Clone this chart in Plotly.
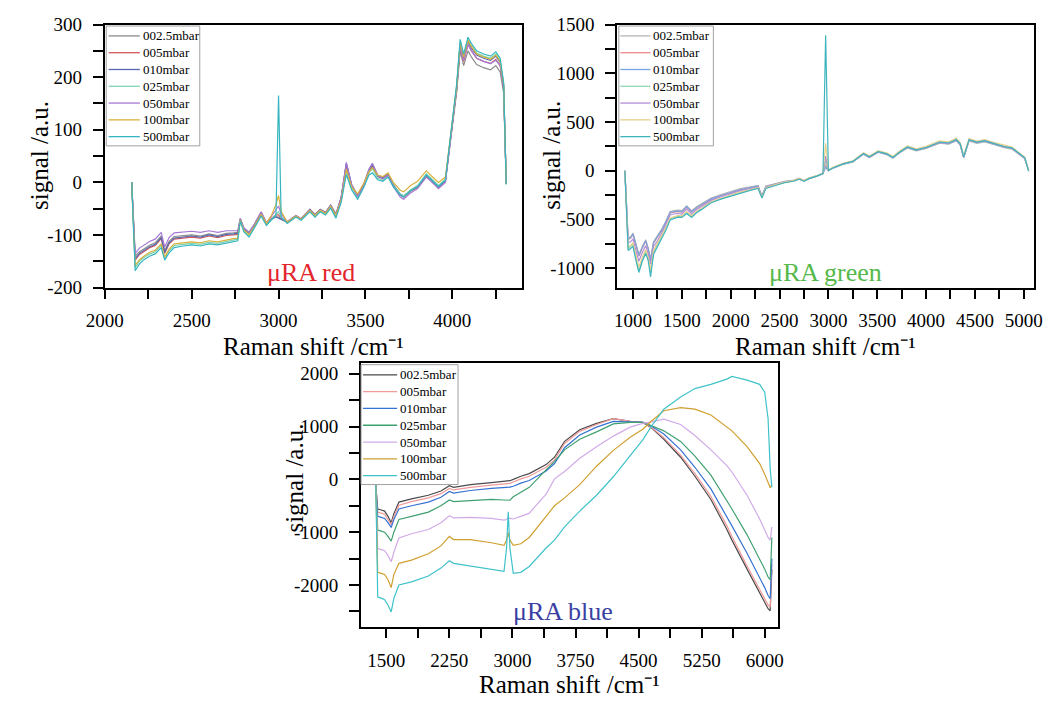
import plotly.graph_objects as go

SERIF = "Liberation Serif"

SERIES = ["002.5mbar", "005mbar", "010mbar", "025mbar", "050mbar", "100mbar", "500mbar"]

# ---------------- µRA red ----------------
RED_X = [2155, 2175, 2200, 2230, 2260, 2290, 2325, 2345, 2370, 2400, 2450, 2500, 2550, 2600,
         2650, 2700, 2740, 2765, 2780, 2800, 2830, 2860, 2900, 2930, 2960, 2985, 3000, 3015,
         3050, 3100, 3130, 3180, 3210, 3240, 3270, 3300, 3330, 3360, 3390, 3420, 3455, 3490,
         3520, 3540, 3570, 3600, 3630, 3660, 3700, 3720, 3760, 3800, 3850, 3880, 3920, 3960,
         3995, 4025, 4045, 4065, 4090, 4110, 4140, 4180, 4220, 4250, 4275, 4295, 4310]
RED_002 = [0, -140, -132, -125, -119, -115, -102, -130, -112, -103, -101, -100, -102, -98, -101, -97, -96, -95, -69, -87,
           -95, -80, -57, -77, -69, -65, -66, -69, -75, -63, -69, -51, -61, -51, -57, -43, -60, -28, 36, -4,
           -24, -3, 25, 36, 14, 9, 17, -4, -24, -28, -17, -10, 12, 3, -10, 2, 95, 172, 250, 222,
           250, 238, 224, 218, 214, 222, 210, 170, -3]
RED_005 = [0, -148, -137, -130, -124, -120, -107, -135, -117, -108, -106, -104, -106, -102, -105, -101, -100, -99, -71, -89,
           -97, -83, -59, -78, -68, -62, -62, -68, -76, -64, -70, -53, -62, -52, -58, -45, -62, -31, 33, -6,
           -27, -6, 21, 31, 11, 7, 14, -6, -24, -28, -16, -9, 13, 4, -9, 3, 98, 178, 258, 230,
           262, 250, 236, 230, 226, 234, 222, 180, -2]
RED_010 = [0, -145, -135, -128, -122, -118, -105, -133, -115, -106, -104, -102, -104, -100, -103, -99, -98, -97, -70, -88,
           -96, -82, -58, -78, -70, -66, -68, -70, -76, -64, -70, -52, -62, -52, -58, -44, -62, -30, 35, -5,
           -26, -5, 22, 33, 12, 8, 15, -5, -22, -26, -15, -8, 14, 5, -8, 4, 100, 180, 262, 235,
           268, 255, 242, 236, 232, 240, 228, 185, -2]
RED_025 = [0, -162, -150, -142, -136, -132, -120, -145, -130, -120, -118, -116, -118, -114, -116, -112, -110, -108, -72, -92,
           -101, -86, -62, -80, -70, -62, -56, -66, -77, -65, -71, -54, -64, -54, -60, -47, -65, -36, 22, -10,
           -30, -8, 18, 26, 8, 4, 12, -6, -22, -26, -14, -6, 16, 7, -6, 6, 102, 184, 268, 240,
           272, 260, 246, 240, 236, 244, 232, 188, -2]
RED_050 = [0, -135, -125, -118, -112, -108, -95, -123, -105, -96, -94, -93, -95, -92, -95, -92, -92, -92, -68, -86,
           -95, -80, -56, -77, -64, -52, -45, -60, -75, -63, -69, -52, -62, -52, -58, -44, -62, -30, 38, -4,
           -27, -6, 24, 36, 13, 7, 14, -8, -28, -32, -20, -12, 10, 1, -12, 0, 98, 178, 258, 232,
           262, 250, 236, 230, 226, 232, 222, 182, -2]
RED_100 = [0, -158, -147, -139, -133, -129, -117, -142, -127, -117, -115, -113, -115, -111, -113, -109, -107, -106, -71, -90,
           -99, -84, -60, -78, -62, -42, -25, -55, -76, -64, -70, -53, -63, -53, -59, -45, -63, -34, 25, -8,
           -22, -2, 20, 28, 14, 11, 18, 0, -15, -18, -6, 2, 22, 12, 0, 10, 100, 182, 265, 238,
           270, 258, 244, 238, 234, 242, 230, 186, -2]
RED_500 = [0, -168, -155, -146, -140, -136, -124, -148, -134, -124, -121, -119, -121, -117, -119, -115, -113, -111, -73, -94,
           -104, -88, -64, -82, -70, -62, 165, -66, -78, -66, -72, -56, -66, -56, -62, -49, -68, -38, 15, -14,
           -32, -10, 14, 18, 5, 2, 10, -8, -24, -28, -16, -8, 14, 5, -8, 4, 104, 188, 272, 244,
           276, 264, 250, 244, 240, 248, 236, 190, -4]

# ---------------- µRA green ----------------
GREEN_X = [917, 950, 975, 1000, 1030, 1060, 1095, 1130, 1155, 1180, 1210, 1250, 1300, 1340, 1380, 1420,
           1460, 1500, 1550, 1600, 1650, 1700, 1800, 1900, 2000, 2100, 2200, 2280, 2320, 2360, 2450,
           2550, 2650, 2700, 2750, 2800, 2880, 2945, 2972, 3000, 3050, 3150, 3250, 3360, 3420, 3510,
           3600, 3660, 3730, 3810, 3900, 4000, 4140, 4230, 4310, 4350, 4385, 4440, 4520, 4600, 4700,
           4800, 4880, 4950, 5010, 5050]
GREEN_002 = [0, -690, -680, -640, -750, -860, -780, -710, -790, -905, -730, -670, -590, -510, -420, -410, -405, -410, -360, -410,
             -370, -340, -280, -245, -215, -185, -165, -152, -258, -158, -134, -110, -96, -78, -101, -77, -53, -28, 30, 2,
             28, 66, 90, 170, 135, 190, 165, 130, 185, 233, 203, 228, 282, 272, 305, 262, 132, 305, 280, 295,
             266, 236, 222, 168, 124, 0]
GREEN_005 = [0, -705, -695, -655, -770, -880, -795, -725, -805, -930, -745, -685, -605, -525, -435, -425, -420, -425, -375, -425,
             -385, -355, -295, -258, -228, -198, -178, -162, -266, -166, -141, -116, -100, -82, -105, -80, -55, -30, 60, 0,
             30, 70, 95, 175, 140, 195, 170, 135, 190, 240, 210, 235, 290, 280, 315, 270, 140, 315, 290, 305,
             275, 245, 230, 175, 130, 0]
GREEN_010 = [0, -700, -690, -650, -760, -870, -790, -720, -800, -920, -740, -680, -600, -520, -430, -420, -415, -420, -370, -420,
             -380, -350, -290, -255, -225, -195, -175, -160, -265, -165, -140, -115, -100, -82, -105, -80, -55, -30, 40, 0,
             30, 70, 95, 175, 140, 195, 170, 135, 190, 240, 210, 235, 290, 280, 315, 270, 140, 315, 290, 305,
             275, 245, 230, 175, 130, 0]
GREEN_025 = [0, -800, -780, -760, -900, -1030, -920, -830, -900, -1040, -840, -760, -670, -590, -495, -480, -470, -470, -430, -470,
             -425, -395, -325, -288, -255, -222, -198, -178, -275, -178, -150, -123, -106, -88, -110, -84, -58, -32, 100, 2,
             26, 65, 90, 170, 135, 190, 165, 130, 185, 235, 205, 230, 285, 275, 310, 265, 135, 310, 285, 300,
             270, 240, 225, 170, 125, 0]
GREEN_050 = [0, -740, -730, -700, -820, -930, -840, -770, -850, -960, -780, -720, -630, -550, -455, -445, -440, -445, -395, -445,
             -400, -370, -305, -268, -236, -205, -183, -166, -268, -170, -144, -118, -102, -84, -106, -81, -56, -30, 150, 5,
             28, 68, 92, 172, 138, 193, 168, 132, 188, 238, 208, 233, 288, 278, 312, 268, 138, 312, 288, 303,
             273, 243, 228, 173, 128, 0]
GREEN_100 = [0, -780, -770, -740, -870, -990, -890, -810, -890, -1020, -820, -745, -660, -580, -485, -470, -462, -465, -420, -462,
             -418, -388, -320, -283, -250, -218, -195, -176, -272, -176, -146, -118, -100, -80, -102, -76, -50, -25, 280, 8,
             36, 76, 102, 184, 150, 206, 182, 146, 202, 254, 224, 250, 306, 296, 332, 286, 154, 330, 304, 318,
             288, 258, 242, 186, 140, 0]
GREEN_500 = [0, -820, -800, -780, -920, -1045, -930, -850, -920, -1090, -860, -780, -690, -605, -505, -490, -478, -480, -440, -480,
             -432, -400, -330, -292, -260, -226, -202, -182, -280, -182, -152, -124, -106, -86, -108, -82, -56, -30, 1390, 4,
             30, 70, 95, 176, 142, 196, 172, 136, 192, 244, 214, 238, 294, 284, 320, 276, 144, 318, 294, 308,
             278, 248, 234, 178, 134, -5]

# ---------------- µRA blue ----------------
BLUE_X = [1375, 1398, 1440, 1480, 1520, 1558, 1590, 1650, 1800, 2000, 2150, 2250, 2300, 2500, 2750,
          2900, 2930, 2950, 2970, 3010, 3100, 3200, 3400, 3500, 3620, 3800, 4000, 4200, 4400, 4550,
          4650, 4800, 5000, 5170, 5360, 5550, 5610, 5790, 5940, 6000, 6040, 6065, 6085]
BLUE_002 = [-100, -560, -580, -600, -700, -820, -650, -430, -370, -300, -220, -120, -150, -100, -60,
            -40, -35, -30, -25, 0, 60, 110, 280, 420, 720, 940, 1060, 1150, 1100, 1080,
            980, 760, 420, 60, -380, -950, -1150, -1700, -2150, -2330, -2450, -2490, -1700]
BLUE_005 = [-100, -620, -640, -660, -760, -860, -700, -490, -420, -350, -270, -170, -200, -150, -110,
            -90, -85, -80, -75, -50, 10, 60, 230, 370, 680, 910, 1040, 1150, 1100, 1080,
            990, 790, 460, 110, -320, -880, -1080, -1640, -2080, -2270, -2380, -2420, -1600]
BLUE_010 = [-100, -700, -720, -740, -820, -910, -760, -560, -500, -430, -340, -230, -260, -210, -170,
            -160, -155, -150, -145, -130, -70, -20, 160, 300, 600, 840, 990, 1100, 1090, 1080,
            1010, 860, 560, 230, -180, -700, -880, -1400, -1850, -2050, -2200, -2260, -1500]
BLUE_025 = [-100, -960, -980, -1000, -1080, -1170, -1000, -760, -700, -620, -500, -390, -420, -400, -380,
            -390, -395, -400, -395, -330, -250, -150, 180, 340, 560, 760, 900, 1050, 1080, 1080,
            1020, 920, 720, 440, 80, -400, -560, -1050, -1500, -1700, -1850, -1900, -1100]
BLUE_050 = [-100, -1310, -1330, -1350, -1440, -1560, -1380, -1110, -1030, -950, -820, -690, -730, -720, -740,
            -770, -760, -720, -740, -750, -700, -640, -280, 10, 150, 400, 620, 820, 990, 1060,
            1090, 1140, 1040, 830, 560, 260, 140, -300, -750, -950, -1100, -1150, -900]
BLUE_100 = [-100, -1760, -1780, -1800, -1900, -2050, -1800, -1590, -1530, -1410, -1260, -1080, -1140, -1140, -1200,
            -1250, -1150, -1010, -1150, -1250, -1220, -1100, -700, -500, -350, -100, 250, 550, 800, 950,
            1100, 1300, 1360, 1330, 1220, 1000, 920, 620, 300, 100, -80, -160, -100]
BLUE_500 = [-100, -2230, -2250, -2280, -2380, -2510, -2250, -2000, -1940, -1830, -1680, -1540, -1590, -1640, -1700,
            -1740, -1300, -615, -1300, -1780, -1760, -1650, -1300, -1150, -900, -600, -300, 50, 450, 750,
            1000, 1330, 1560, 1720, 1800, 1900, 1950, 1880, 1800, 1650, 1150, 200, -150]

RED_COLORS = ["#8c8c8c", "#d05a5a", "#5568b0", "#7ed3b2", "#a678d6", "#d9b13c", "#35b5c0"]
GREEN_COLORS = ["#b4b4b4", "#f08a8a", "#7aa4e0", "#8fd8b2", "#b28ed8", "#e6cf8c", "#3fb4be"]
BLUE_COLORS = ["#4a4a4a", "#f09a9a", "#3672d2", "#3fa070", "#d2aae8", "#d0a030", "#3fc2ca"]

# tick positions and labels
RED_XTICKS = [2000, 2500, 3000, 3500, 4000]
RED_XTEXT = ["2000", "2500", "3000", "3500", "4000"]
RED_YTICKS = [-200, -100, 0, 100, 200, 300]
RED_YTEXT = ["-200", "-100", "0", "100", "200", "300"]
GREEN_XTICKS = [1000, 1500, 2000, 2500, 3000, 3500, 4000, 4500, 5000]
GREEN_XTEXT = ["1000", "1500", "2000", "2500", "3000", "3500", "4000", "4500", "5000"]
GREEN_YTICKS = [-1000, -500, 0, 500, 1000, 1500]
GREEN_YTEXT = ["-1000", "-500", "0", "500", "1000", "1500"]
BLUE_XTICKS = [1500, 2250, 3000, 3750, 4500, 5250, 6000]
BLUE_XTEXT = ["1500", "2250", "3000", "3750", "4500", "5250", "6000"]
BLUE_YTICKS = [-2000, -1000, 0, 1000, 2000]
BLUE_YTEXT = ["-2000", "-1000", "0", "1000", "2000"]

XTITLE = "Raman shift /cm⁻¹"
YTITLE = "signal /a.u."

W, H = 1061, 711

fig = go.Figure()

panels = [
    (RED_X, [RED_002, RED_005, RED_010, RED_025, RED_050, RED_100, RED_500], RED_COLORS, "x", "y"),
    (GREEN_X, [GREEN_002, GREEN_005, GREEN_010, GREEN_025, GREEN_050, GREEN_100, GREEN_500], GREEN_COLORS, "x2", "y2"),
    (BLUE_X, [BLUE_002, BLUE_005, BLUE_010, BLUE_025, BLUE_050, BLUE_100, BLUE_500], BLUE_COLORS, "x3", "y3"),
]
for xs, ys_list, colors, xa, ya in panels:
    for name, ys, col in zip(SERIES, ys_list, colors):
        fig.add_trace(go.Scatter(x=xs, y=ys, name=name, mode="lines",
                                 line=dict(color=col, width=1.2),
                                 xaxis=xa, yaxis=ya, showlegend=False))


def px_dom_x(a, b):
    return [a / W, b / W]


def px_dom_y(top, bottom):
    return [1 - bottom / H, 1 - top / H]


TITLE_FONT = dict(family=SERIF, size=25, color="black")


def axis(domain, anchor, rng, tickvals, ticktext, m0, mdt, tlen, standoff):
    return dict(domain=domain, anchor=anchor, range=rng,
                tickmode="array", tickvals=tickvals, ticktext=ticktext,
                ticks="outside", ticklen=tlen, tickwidth=2, tickcolor="black",
                ticklabelstandoff=standoff,
                showline=True, linewidth=2, linecolor="black", mirror=True,
                showgrid=False, zeroline=False,
                tickfont=dict(family=SERIF, size=19, color="black"),
                minor=dict(ticks="outside", ticklen=tlen, tickwidth=2, tickcolor="black",
                           tickmode="linear", tick0=m0, dtick=mdt, showgrid=False))


fig.update_layout(
    width=W, height=H,
    margin=dict(l=0, r=0, t=0, b=0),
    paper_bgcolor="white", plot_bgcolor="white",
    showlegend=False,
    xaxis=axis(px_dom_x(88, 516), "y", [2000, 4400], RED_XTICKS, RED_XTEXT, 2000, 250, 9, 6),
    yaxis=axis(px_dom_y(15, 286), "x", [-200, 300], RED_YTICKS, RED_YTEXT, -200, 50, 10, 7),
    xaxis2=axis(px_dom_x(614, 1042), "y2", [840, 5110], GREEN_XTICKS, GREEN_XTEXT, 1000, 250, 9, 6),
    yaxis2=axis(px_dom_y(15, 286), "x2", [-1200, 1500], GREEN_YTICKS, GREEN_YTEXT, -1000, 250, 10, 7),
    xaxis3=axis(px_dom_x(351, 779), "y3", [1200, 6160], BLUE_XTICKS, BLUE_XTEXT, 1500, 375, 9, 6),
    yaxis3=axis(px_dom_y(364, 636), "x3", [-2800, 2200], BLUE_YTICKS, BLUE_YTEXT, -2500, 500, 10, 7),
)


def note(text, x_px, y_px, font, angle=0, xanchor="center"):
    fig.add_annotation(text=text, x=x_px / W, y=1 - y_px / H, xref="paper", yref="paper",
                       xanchor=xanchor, yanchor="middle", showarrow=False,
                       textangle=angle, font=font)


# legend boxes: white frame, coloured line sample and series name per row
ROW = 17.3
LEGEND_FONT = dict(family=SERIF, size=13, color="black")


def legend_box(box, line_x, text_x, first_row, colors):
    x0, y0, x1, y1 = box
    fig.add_shape(type="rect", xref="paper", yref="paper",
                  x0=x0 / W, x1=x1 / W, y0=1 - y1 / H, y1=1 - y0 / H,
                  line=dict(color="#a0a0a0", width=1), fillcolor="white", layer="above")
    for i, (name, col) in enumerate(zip(SERIES, colors)):
        yy = first_row + i * ROW
        fig.add_shape(type="line", xref="paper", yref="paper",
                      x0=line_x[0] / W, x1=line_x[1] / W, y0=1 - yy / H, y1=1 - yy / H,
                      line=dict(color=col, width=1.3), layer="above")
        note(name, text_x, yy, LEGEND_FONT, xanchor="left")


legend_box((89.5, 16.5, 185.5, 140), (92, 124), 125, 26.7, RED_COLORS)
legend_box((615.5, 16.5, 712.5, 140), (617, 648), 649, 26.7, GREEN_COLORS)
legend_box((351, 365.5, 450.5, 489), (353, 388), 389, 376, BLUE_COLORS)

# axis titles
note(XTITLE, 302, 347, TITLE_FONT)
note(XTITLE, 828, 347, TITLE_FONT)
note(XTITLE, 565, 695, TITLE_FONT)
note(YTITLE, 21, 150, TITLE_FONT, -90)
note(YTITLE, 546, 150, TITLE_FONT, -90)
note(YTITLE, 283, 482, TITLE_FONT, -90)

# panel labels
note("μRA red", 300, 270, dict(family=SERIF, size=26, color="#e3262b"))
note("μRA green", 828, 270, dict(family=SERIF, size=26, color="#55b94a"))
note("μRA blue", 558, 620, dict(family=SERIF, size=26, color="#3b3fa3"))

fig.write_html("out.html")
